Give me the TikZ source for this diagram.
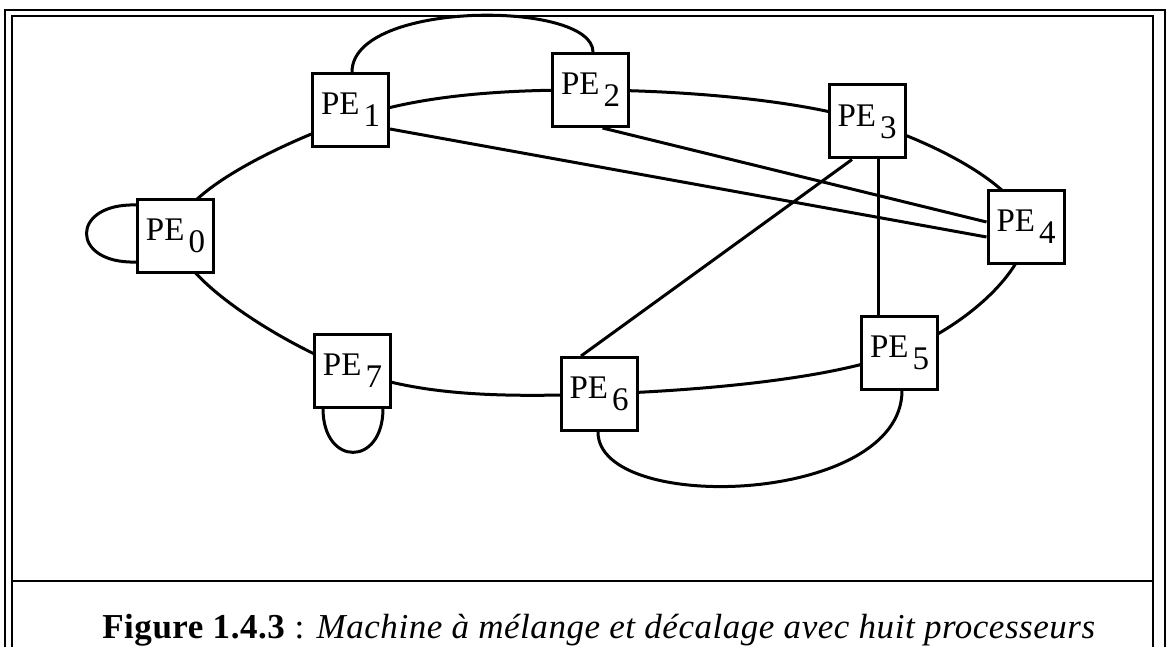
\documentclass[tikz,border=0pt]{standalone}
\usepackage{fontspec}
\setmainfont{Liberation Serif}
\usetikzlibrary{calc,backgrounds}
\newcommand\pelabel[1]{PE\hspace{4pt}\raisebox{-12pt}{#1}}
\begin{document}
\begin{tikzpicture}[x=1pt,y=-1pt,
  pe/.style={draw, line width=3pt, fill=white, minimum width=76pt, minimum height=73pt, inner sep=0pt, font=\fontsize{33}{39}\selectfont},
  link/.style={line width=3pt},
  framel/.style={line width=2.2pt}]
\useasboundingbox (0,0) rectangle (1166,647);
% nodes
\node[pe] (PE0) at (175.5,235.5) {\pelabel{0}};
\node[pe] (PE1) at (350.5,110) {\pelabel{1}};
\node[pe] (PE2) at (590.5,90) {\pelabel{2}};
\node[pe] (PE3) at (867,121.5) {\pelabel{3}};
\node[pe] (PE4) at (1026,226.5) {\pelabel{4}};
\node[pe] (PE5) at (899.5,352.5) {\pelabel{5}};
\node[pe] (PE6) at (599,394) {\pelabel{6}};
\node[pe] (PE7) at (352.5,370.5) {\pelabel{7}};
\coordinate (r1) at ($(PE1)+(0,9)$);
\begin{pgfonlayer}{background}
\fill[white] (0,0) rectangle (1166,647);
% frame
\draw[framel] (5,10) rectangle (1165,700);
\draw[framel] (12,16) rectangle (1153,700);
\draw[framel] (12,581) -- (1153,581);
% ring
\draw[link] plot[smooth cycle, tension=0.6] coordinates {(PE0) (r1) (PE2) (PE3) (PE4) (PE5) (PE6) (PE7)};
% cross links
\draw[link] ($(PE1.east)+(0,19)$) -- ($(PE4.west)+(0,10.5)$);
\draw[link] ($(PE2.south)+(12,0)$) -- ($(PE4.west)+(0,-4.5)$);
\draw[link] ($(PE3.south)+(11,0)$) -- ($(PE5.north)+(-21.5,0)$);
\draw[link] ($(PE3.south)+(-15,0)$) -- ($(PE6.north)+(-18,0)$);
% loops
\draw[link] ($(PE0.west)+(0,-30.5)$) .. controls (70,203) and (70,264) .. ($(PE0.west)+(0,26.5)$);
\draw[link] ($(PE7.south)+(-29.5,0)$) .. controls (323,467) and (383,467) .. ($(PE7.south)+(30.5,0)$);
\draw[link] ($(PE1.north)+(1.5,0)$) .. controls (352,0) and (593,0) .. ($(PE2.north)+(2.5,0)$);
\draw[link] ($(PE6.south)+(-1,0)$) .. controls (598,515) and (902,505) .. ($(PE5.south)+(2.5,0)$);
\end{pgfonlayer}
% caption
\node[anchor=base, font=\fontsize{35}{42}\selectfont\addfontfeature{LetterSpace=1.5}, inner sep=0pt] (cap) at (599,638)
  {\textbf{Figure 1.4.3} : \textit{Machine à mélange et décalage avec huit processeurs}};
\end{tikzpicture}
\end{document}
